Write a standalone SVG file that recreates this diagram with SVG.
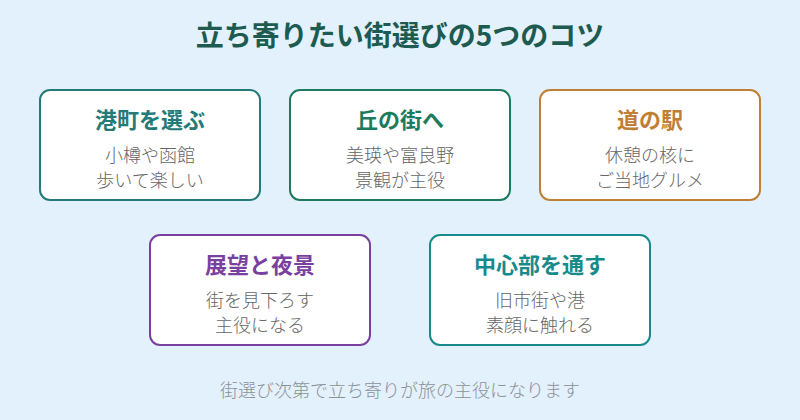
<svg xmlns="http://www.w3.org/2000/svg" width="800" height="420" viewBox="0 0 800 420">
<style>
text{font-family:"Noto Sans CJK JP","Noto Sans",sans-serif;text-anchor:middle}
.box{fill:#ffffff;stroke-width:2}
.title{font-size:28px;font-weight:700;fill:#1d5a50}
.h{font-size:22px;font-weight:700}
.b{font-size:18px;font-weight:300;fill:#666666}
.foot{font-size:18px;font-weight:300;fill:#8a9098}
</style>
<rect x="0" y="0" width="800" height="420" fill="#e3f1fc"/>
<text class="title" x="400" y="46">立ち寄りたい街選びの5つのコツ</text>
<g id="connectors"></g>
<g id="node1">
<rect class="box" x="40" y="90" width="220" height="110" rx="10" stroke="#237a77"/>
<text class="h" x="150" y="128" fill="#237a77">港町を選ぶ</text>
<text class="b" x="150" y="162">小樽や函館</text>
<text class="b" x="150" y="187">歩いて楽しい</text>
</g>
<g id="node2">
<rect class="box" x="290" y="90" width="220" height="110" rx="10" stroke="#1e7a5c"/>
<text class="h" x="400" y="128" fill="#1e7a5c">丘の街へ</text>
<text class="b" x="400" y="162">美瑛や富良野</text>
<text class="b" x="400" y="187">景観が主役</text>
</g>
<g id="node3">
<rect class="box" x="540" y="90" width="220" height="110" rx="10" stroke="#bf8035"/>
<text class="h" x="650" y="128" fill="#bf8035">道の駅</text>
<text class="b" x="650" y="162">休憩の核に</text>
<text class="b" x="650" y="187">ご当地グルメ</text>
</g>
<g id="node4">
<rect class="box" x="150" y="235" width="220" height="110" rx="10" stroke="#7a40a0"/>
<text class="h" x="260" y="273" fill="#7a40a0">展望と夜景</text>
<text class="b" x="260" y="307">街を見下ろす</text>
<text class="b" x="260" y="332">主役になる</text>
</g>
<g id="node5">
<rect class="box" x="430" y="235" width="220" height="110" rx="10" stroke="#178a8a"/>
<text class="h" x="540" y="273" fill="#178a8a">中心部を通す</text>
<text class="b" x="540" y="307">旧市街や港</text>
<text class="b" x="540" y="332">素顔に触れる</text>
</g>
<text class="foot" x="400" y="397">街選び次第で立ち寄りが旅の主役になります</text>
</svg>
